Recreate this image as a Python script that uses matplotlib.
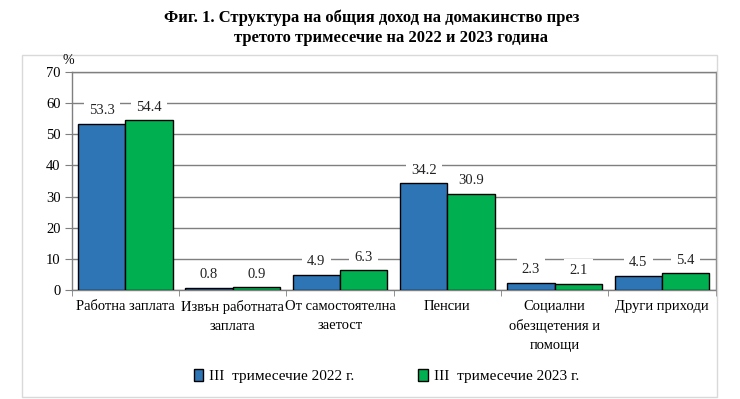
import matplotlib
matplotlib.use("Agg")
import matplotlib.pyplot as plt
import numpy as np
from matplotlib.patches import Rectangle

categories = ["Работна заплата", "Извън работната\nзаплата", "От самостоятелна\nзаетост",
              "Пенсии", "Социални\nобезщетения и\nпомощи", "Други приходи"]
series_names = ["III  тримесечие 2022 г.", "III  тримесечие 2023 г."]
values_2022 = [53.3, 0.8, 4.9, 34.2, 2.3, 4.5]
values_2023 = [54.4, 0.9, 6.3, 30.9, 2.1, 5.4]
yticks = [0, 10, 20, 30, 40, 50, 60, 70]
colors = ["#2E75B6", "#00B050"]

plt.rcParams['font.family'] = ['Liberation Serif', 'DejaVu Serif']

fig = plt.figure(figsize=(7.4, 3.99), dpi=100)
ax = fig.add_axes([0.0969, 0.273, 0.967 - 0.0969, 0.820 - 0.273])

# outer chart box
fig.patches.append(Rectangle((22/740, 1-397/399), (717-22)/740, (397-55)/399,
                             transform=fig.transFigure, fill=False,
                             edgecolor="#d9d9d9", linewidth=1.0, zorder=0))

x = np.arange(len(categories))
w = 0.44
ax.set_axisbelow(True)
for vals, off, col in [(values_2022, -w/2, colors[0]), (values_2023, w/2, colors[1])]:
    bars = ax.bar(x + off, vals, width=w, color=col, edgecolor="black", linewidth=1.0, zorder=3)
    for b, v in zip(bars, vals):
        ax.annotate(f"{v:.1f}", (b.get_x() + b.get_width()/2, v), xytext=(0, 9.5),
                    textcoords="offset points", ha="center", va="center", fontsize=10.5,
                    color="#222222", zorder=4,
                    bbox=dict(boxstyle="square,pad=0.35", facecolor="white", edgecolor="none"))

ax.set_xlim(-0.5, len(categories) - 0.5)
ax.set_ylim(0, 70)
ax.set_yticks(yticks)
ax.set_yticklabels([str(t) for t in yticks], fontsize=10.5)
ax.yaxis.grid(True, color="#7f7f7f", linewidth=1.0)
ax.set_xticks(x)
ax.set_xticklabels(categories, fontsize=10.5, linespacing=1.6)
ax.tick_params(axis="x", length=0, pad=7)
ax.set_xticks(np.arange(-0.5, len(categories), 1.0), minor=True)
ax.tick_params(axis="x", which="minor", length=4, color="#7f7f7f", direction="out")
ax.tick_params(axis="y", length=5, color="#7f7f7f", direction="out", pad=3)
for s in ax.spines.values():
    s.set_color("#7f7f7f")
    s.set_linewidth(1.0)

fig.text(68/740, 1-61/399, "%", fontsize=10, ha="center", va="center")

fig.text(0.502, 1-18/399, "Фиг. 1. Структура на общия доход на домакинство през",
         ha="center", va="center", fontsize=12, fontweight="bold")
fig.text(0.528, 1-38/399, "третото тримесечие на 2022 и 2023 година",
         ha="center", va="center", fontsize=12, fontweight="bold")

handles = [Rectangle((0, 0), 1, 1, facecolor=c, edgecolor="black", linewidth=1.0) for c in colors]
fig.legend(handles, series_names, loc="center", bbox_to_anchor=(0.522, 1-376/399), ncol=2,
           frameon=False, fontsize=11, handlelength=0.6, handleheight=0.8,
           handletextpad=0.4, columnspacing=4.2)

fig.savefig("out.png", dpi=100)
